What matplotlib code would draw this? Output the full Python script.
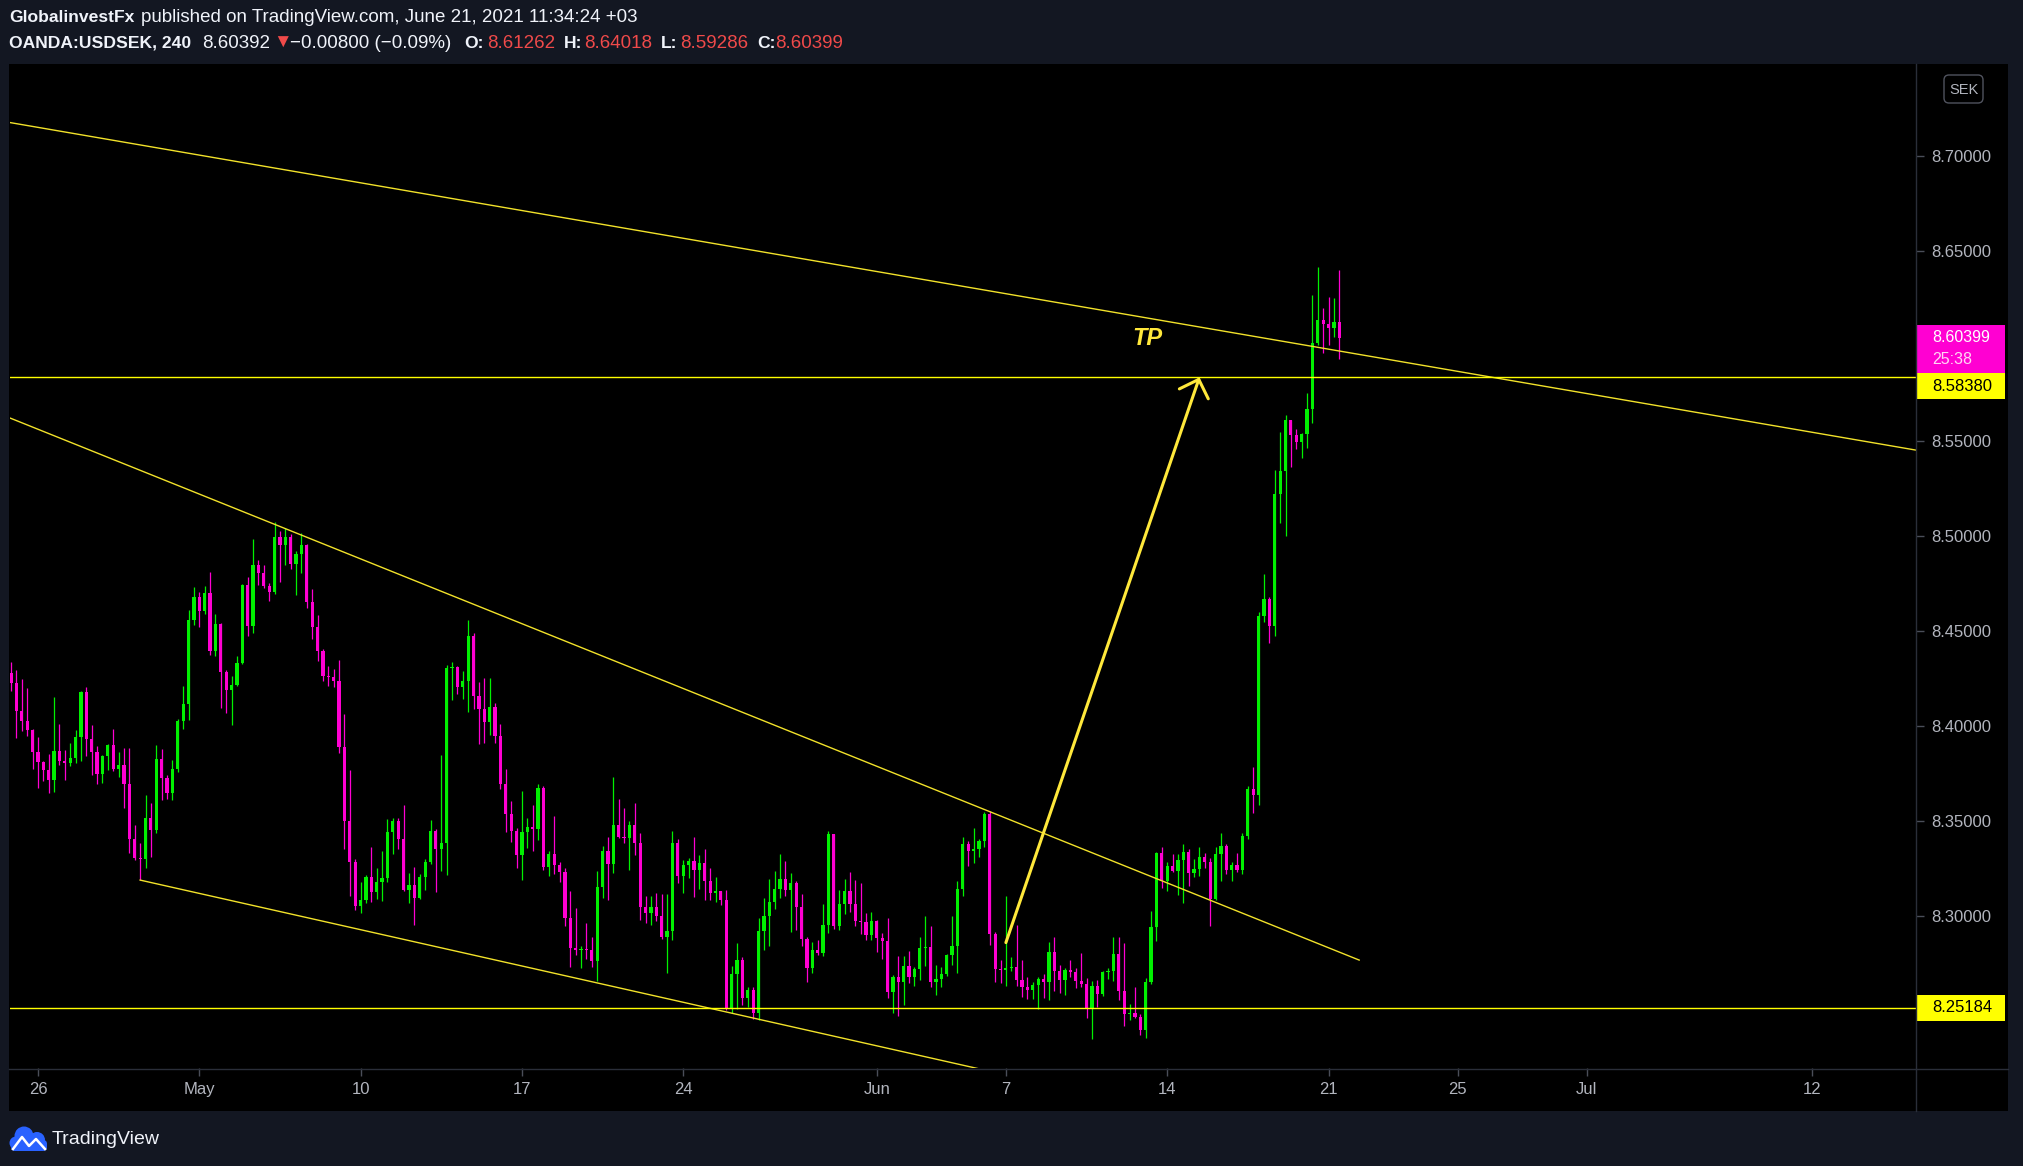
import numpy as np
import matplotlib
matplotlib.use('Agg')
import matplotlib.pyplot as plt
from matplotlib.patches import Rectangle, FancyBboxPatch, Circle

W, H = 2023, 1166
plt.rcParams['font.family'] = ['Liberation Sans', 'DejaVu Sans']

# USDSEK 4h candles, bar 0 = Mon Apr 26 00:00 (+03), 6 bars per trading day
first_bar = -5
first_open = 8.4277
closes = [
    8.4224, 8.4080, 8.4026, 8.3979, 8.3865, 8.3812, 8.3770, 8.3717, 8.3868, 8.3817,
    8.3807, 8.3831, 8.3942, 8.4179, 8.3931, 8.3863, 8.3749, 8.3842, 8.3900, 8.3775,
    8.3795, 8.3696, 8.3407, 8.3307, 8.3300, 8.3516, 8.3454, 8.3826, 8.3728, 8.3649,
    8.3773, 8.4026, 8.4116, 8.4558, 8.4679, 8.4607, 8.4700, 8.4396, 8.4537, 8.4286,
    8.4191, 8.4216, 8.4331, 8.4742, 8.4528, 8.4847, 8.4807, 8.4738, 8.4707, 8.4995,
    8.4954, 8.4995, 8.4854, 8.4905, 8.4952, 8.4654, 8.4523, 8.4396, 8.4265, 8.4259,
    8.4238, 8.3891, 8.3502, 8.3286, 8.3054, 8.3084, 8.3205, 8.3128, 8.3179, 8.3200,
    8.3442, 8.3500, 8.3407, 8.3137, 8.3163, 8.3096, 8.3205, 8.3284, 8.3447, 8.3354,
    8.3384, 8.4305, 8.4309, 8.4207, 8.4237, 8.4474, 8.4160, 8.4091, 8.4023, 8.4102,
    8.3949, 8.3697, 8.3539, 8.3449, 8.3321, 8.3444, 8.3470, 8.3460, 8.3675, 8.3260,
    8.3328, 8.3270, 8.3233, 8.2991, 8.2833, 8.2823, 8.2828, 8.2823, 8.2765, 8.3154,
    8.3342, 8.3275, 8.3479, 8.3417, 8.3412, 8.3479, 8.3386, 8.3049, 8.3017, 8.3049,
    8.3002, 8.2891, 8.2923, 8.3384, 8.3212, 8.3268, 8.3289, 8.3244, 8.3279, 8.3186,
    8.3123, 8.3133, 8.3086, 8.2512, 8.2696, 8.2770, 8.2570, 8.2612, 8.2491, 8.2921,
    8.3000, 8.3074, 8.3144, 8.3195, 8.3139, 8.3175, 8.3049, 8.2881, 8.2728, 8.2823,
    8.2807, 8.2954, 8.3433, 8.2949, 8.3065, 8.3133, 8.3065, 8.2975, 8.2970, 8.2902,
    8.2975, 8.2886, 8.2870, 8.2602, 8.2681, 8.2654, 8.2739, 8.2681, 8.2723, 8.2833,
    8.2839, 8.2654, 8.2670, 8.2696, 8.2797, 8.2844, 8.3144, 8.3379, 8.3342, 8.3353,
    8.3395, 8.3537, 8.2907, 8.2723, 8.2718, 8.2728, 8.2733, 8.2665, 8.2628, 8.2612,
    8.2639, 8.2670, 8.2654, 8.2812, 8.2712, 8.2665, 8.2718, 8.2707, 8.2660, 8.2644,
    8.2512, 8.2633, 8.2591, 8.2707, 8.2712, 8.2802, 8.2607, 8.2486, 8.2491, 8.2470,
    8.2402, 8.2654, 8.2944, 8.3333, 8.3186, 8.3265, 8.3239, 8.3297, 8.3339, 8.3228,
    8.3249, 8.3312, 8.3286, 8.3091, 8.3328, 8.3370, 8.3244, 8.3270, 8.3244, 8.3423,
    8.3670, 8.3637, 8.4581, 8.4668, 8.4528, 8.5221, 8.5342, 8.5611, 8.5533, 8.5496,
    8.5539, 8.5668, 8.6016, 8.6137, 8.6118, 8.6097, 8.6126, 8.6040,
]
highs = [
    8.4335, 8.4295, 8.4247, 8.4200, 8.3984, 8.3942, 8.3816, 8.3852, 8.4152, 8.4010,
    8.3874, 8.3910, 8.3979, 8.4182, 8.4205, 8.4005, 8.3895, 8.3847, 8.3905, 8.3984,
    8.3863, 8.3884, 8.3884, 8.3479, 8.3384, 8.3637, 8.3595, 8.3900, 8.3879, 8.3744,
    8.3821, 8.4037, 8.4210, 8.4610, 8.4731, 8.4705, 8.4737, 8.4810, 8.4589, 8.4542,
    8.4296, 8.4263, 8.4368, 8.4747, 8.4784, 8.4984, 8.4873, 8.4847, 8.4752, 8.5073,
    8.5026, 8.5042, 8.5010, 8.4921, 8.5016, 8.4958, 8.4721, 8.4584, 8.4405, 8.4317,
    8.4302, 8.4347, 8.4063, 8.3768, 8.3300, 8.3179, 8.3216, 8.3363, 8.3253, 8.3342,
    8.3511, 8.3516, 8.3516, 8.3584, 8.3226, 8.3258, 8.3221, 8.3300, 8.3505, 8.3458,
    8.3847, 8.4321, 8.4337, 8.4316, 8.4289, 8.4558, 8.4489, 8.4232, 8.4253, 8.4253,
    8.4121, 8.4010, 8.3774, 8.3605, 8.3465, 8.3658, 8.3516, 8.3584, 8.3697, 8.3686,
    8.3344, 8.3528, 8.3284, 8.3253, 8.3133, 8.3044, 8.2844, 8.2965, 8.2891, 8.3237,
    8.3368, 8.3417, 8.3732, 8.3616, 8.3568, 8.3500, 8.3595, 8.3437, 8.3107, 8.3107,
    8.3123, 8.3118, 8.3118, 8.3447, 8.3405, 8.3295, 8.3305, 8.3416, 8.3321, 8.3353,
    8.3253, 8.3205, 8.3133, 8.3139, 8.2739, 8.2860, 8.2786, 8.2628, 8.2628, 8.2991,
    8.3095, 8.3195, 8.3237, 8.3326, 8.3289, 8.3226, 8.3186, 8.3118, 8.2891, 8.2865,
    8.2875, 8.3065, 8.3449, 8.3433, 8.3139, 8.3197, 8.3233, 8.3191, 8.3175, 8.3018,
    8.3023, 8.2981, 8.2912, 8.2991, 8.2691, 8.2791, 8.2791, 8.2818, 8.2733, 8.2891,
    8.3002, 8.2949, 8.2744, 8.2733, 8.2800, 8.3002, 8.3186, 8.3416, 8.3395, 8.3463,
    8.3405, 8.3547, 8.3553, 8.2918, 8.2770, 8.3107, 8.2786, 8.2954, 8.2770, 8.2681,
    8.2654, 8.2681, 8.2696, 8.2865, 8.2891, 8.2744, 8.2728, 8.2770, 8.2728, 8.2807,
    8.2675, 8.2660, 8.2665, 8.2712, 8.2728, 8.2891, 8.2891, 8.2860, 8.2539, 8.2628,
    8.2486, 8.2675, 8.3028, 8.3339, 8.3365, 8.3286, 8.3328, 8.3328, 8.3381, 8.3355,
    8.3302, 8.3365, 8.3333, 8.3307, 8.3365, 8.3439, 8.3381, 8.3286, 8.3333, 8.3439,
    8.3686, 8.3784, 8.4602, 8.4800, 8.4679, 8.5347, 8.5547, 8.5637, 8.5611, 8.5563,
    8.5544, 8.5753, 8.6268, 8.6416, 8.6200, 8.6258, 8.6253, 8.6402,
]
lows = [
    8.4186, 8.3938, 8.3973, 8.3947, 8.3775, 8.3675, 8.3710, 8.3649, 8.3654, 8.3795,
    8.3717, 8.3789, 8.3807, 8.3817, 8.3842, 8.3742, 8.3696, 8.3702, 8.3770, 8.3765,
    8.3733, 8.3570, 8.3333, 8.3296, 8.3189, 8.3253, 8.3312, 8.3438, 8.3612, 8.3617,
    8.3612, 8.3760, 8.3986, 8.4033, 8.4533, 8.4523, 8.4591, 8.4375, 8.4370, 8.4096,
    8.4070, 8.4007, 8.4212, 8.4328, 8.4475, 8.4491, 8.4744, 8.4728, 8.4659, 8.4696,
    8.4760, 8.4849, 8.4828, 8.4691, 8.4807, 8.4623, 8.4459, 8.4344, 8.4238, 8.4212,
    8.4207, 8.3859, 8.3354, 8.3105, 8.3031, 8.3017, 8.3067, 8.3075, 8.3091, 8.3081,
    8.3181, 8.3328, 8.3354, 8.3132, 8.3070, 8.2954, 8.3091, 8.3139, 8.3274, 8.3128,
    8.3237, 8.3218, 8.4139, 8.4170, 8.4144, 8.4075, 8.4091, 8.3907, 8.3912, 8.3954,
    8.3912, 8.3667, 8.3444, 8.3391, 8.3254, 8.3191, 8.3360, 8.3344, 8.3402, 8.3244,
    8.3212, 8.3223, 8.3181, 8.2949, 8.2733, 8.2797, 8.2728, 8.2776, 8.2733, 8.2660,
    8.3096, 8.3086, 8.3228, 8.3412, 8.3386, 8.3244, 8.3323, 8.2981, 8.2965, 8.2954,
    8.2975, 8.2881, 8.2702, 8.2876, 8.3175, 8.3123, 8.3202, 8.3102, 8.3144, 8.3086,
    8.3086, 8.3075, 8.3060, 8.2507, 8.2491, 8.2512, 8.2533, 8.2523, 8.2460, 8.2454,
    8.2823, 8.2844, 8.3039, 8.3097, 8.3107, 8.2918, 8.2928, 8.2844, 8.2654, 8.2702,
    8.2797, 8.2791, 8.2912, 8.2933, 8.2928, 8.3012, 8.3023, 8.2949, 8.2907, 8.2875,
    8.2875, 8.2812, 8.2775, 8.2570, 8.2491, 8.2475, 8.2533, 8.2649, 8.2633, 8.2665,
    8.2739, 8.2628, 8.2586, 8.2628, 8.2686, 8.2744, 8.2702, 8.3107, 8.3265, 8.3281,
    8.3312, 8.3363, 8.2849, 8.2654, 8.2649, 8.2633, 8.2712, 8.2633, 8.2575, 8.2565,
    8.2565, 8.2512, 8.2570, 8.2560, 8.2607, 8.2597, 8.2586, 8.2681, 8.2623, 8.2628,
    8.2465, 8.2354, 8.2523, 8.2581, 8.2670, 8.2660, 8.2560, 8.2423, 8.2454, 8.2465,
    8.2375, 8.2360, 8.2644, 8.2870, 8.3149, 8.3133, 8.3233, 8.3112, 8.3070, 8.3160,
    8.3207, 8.3212, 8.3254, 8.2949, 8.3086, 8.3186, 8.3223, 8.3186, 8.3233, 8.3223,
    8.3407, 8.3542, 8.3584, 8.4549, 8.4439, 8.4475, 8.5070, 8.5002, 8.5365, 8.5460,
    8.5412, 8.5465, 8.5597, 8.6005, 8.5965, 8.6005, 8.6047, 8.5929,
]

# time axis: bar index of each date label
date_ticks = [0, 30, 60, 90, 120, 156, 180, 210, 240, 264, 288, 330]
date_labels = ['26', 'May', '10', '17', '24', 'Jun', '7', '14', '21', '25', 'Jul', '12']
# 8.60000 is covered by the last-price label in the reference, so it is left out
price_ticks = [8.30, 8.35, 8.40, 8.45, 8.50, 8.55, 8.65, 8.70]

tp_level = 8.58380
support_level = 8.25184
last_price = 8.60399
countdown = '25:38'

# drawn trendlines (bar index, price)
upper_x, upper_y = [-5.2, 349.25], [8.7176, 8.5452]
mid_x, mid_y = [-5.2, 245.7], [8.5621, 8.2768]
low_x, low_y = [19, 185], [8.3189, 8.2132]
arrow_from = (180, 8.2860)
arrow_to = (216, 8.5835)
tp_label_pos = (206.3, 8.6042)

GREEN = '#00f000'
MAGENTA = '#ff00d2'
YELLOW = '#ffff00'
TREND = '#f2e22a'
ARROW = '#ffe83b'
TXT = '#b2b5be'
GRID = '#2a2e39'

fig = plt.figure(figsize=(W / 100, H / 100), dpi=100)
fig.patch.set_facecolor('#131722')

bg = fig.add_axes([0, 0, 1, 1], zorder=-1)
bg.set_xlim(0, W); bg.set_ylim(H, 0); bg.axis('off')
bg.add_patch(Rectangle((9, 64), 1999, 1047, color='black', lw=0))

ax = fig.add_axes([10 / W, 1 - 1068 / H, 1906 / W, 1004 / H], zorder=1)
ax.set_facecolor('black')
ax.set_xlim(-5.2, 349.25)
ax.set_ylim(8.22, 8.74842)
for s in ax.spines.values():
    s.set_visible(False)

closes = np.array(closes); highs = np.array(highs); lows = np.array(lows)
bars = np.arange(first_bar, first_bar + len(closes))
opens = np.concatenate([[first_open], closes[:-1]])
cols = np.where(closes >= opens, GREEN, MAGENTA)
ax.vlines(bars, lows, highs, colors=cols, lw=0.9, zorder=3)
body_lo = np.minimum(opens, closes)
body_h = np.maximum(np.abs(closes - opens), 0.0005)
ax.bar(bars, body_h, bottom=body_lo, width=0.6, color=cols, linewidth=0, zorder=3)

ax.plot(upper_x, upper_y, color=TREND, lw=1.0, zorder=4)
ax.plot(mid_x, mid_y, color=TREND, lw=1.0, zorder=4)
ax.plot(low_x, low_y, color=TREND, lw=1.0, zorder=4)
ax.axhline(tp_level, color=YELLOW, lw=1.0, zorder=4)
ax.axhline(support_level, color=YELLOW, lw=1.0, zorder=4)
ax.annotate('', xy=arrow_to, xytext=arrow_from,
            arrowprops=dict(arrowstyle='->,head_length=0.55,head_width=0.55',
                            color=ARROW, lw=2.2, mutation_scale=20,
                            shrinkA=0, shrinkB=0), zorder=5)
ax.text(*tp_label_pos, 'TP', color=ARROW, fontsize=17, fontweight='bold',
        fontstyle='italic', ha='center', va='center', zorder=5)

ax.yaxis.tick_right()
ax.set_yticks(price_ticks, [f'{v:.5f}' for v in price_ticks])
ax.set_xticks(date_ticks, date_labels)
ax.tick_params(axis='y', length=6, width=1, color='#4a4e59', pad=5,
               labelsize=12, labelcolor=TXT)
ax.tick_params(axis='x', length=6, width=1, color='#4a4e59', pad=4,
               labelsize=12, labelcolor=TXT)

# overlay in pixel coordinates
ov = fig.add_axes([0, 0, 1, 1], zorder=3)
ov.set_xlim(0, W); ov.set_ylim(H, 0); ov.axis('off')
ov.patch.set_alpha(0)


def py(p):
    return H - ax.transData.transform((0, p))[1]


ov.plot([1916.5, 1916.5], [64, 1111], color=GRID, lw=1)
ov.plot([9, 2008], [1068.5, 1068.5], color=GRID, lw=1)

# price scale labels
y_last = py(last_price)
ov.add_patch(Rectangle((1916, y_last - 13), 89, 48, color=MAGENTA, lw=0))
ov.text(1932, y_last - 1, f'{last_price:.5f}', color='white', fontsize=11.5,
        va='center', ha='left')
ov.text(1932, y_last + 21, countdown, color='#ffd6f4', fontsize=11.5,
        va='center', ha='left')
y_tp = y_last + 35
ov.add_patch(Rectangle((1916, y_tp), 89, 26, color=YELLOW, lw=0))
ov.text(1932, y_tp + 13, f'{tp_level:.5f}', color='black', fontsize=12,
        va='center', ha='left')
y_sup = py(support_level)
ov.add_patch(Rectangle((1916, y_sup - 13), 89, 26, color=YELLOW, lw=0))
ov.text(1932, y_sup, f'{support_level:.5f}', color='black', fontsize=12,
        va='center', ha='left')

ov.add_patch(FancyBboxPatch((1944, 75), 39, 28, boxstyle='round,pad=0,rounding_size=5',
                            fc='none', ec='#50535e', lw=1))
ov.text(1963.5, 89.5, 'SEK', color=TXT, fontsize=10.5, ha='center', va='center')

# header
WHITE = '#f0f3fa'
RED = '#f04a4a'
hs = 13.5
hb = 12.6
ov.text(9, 17, 'GlobalinvestFx', color=WHITE, fontsize=hb, fontweight='bold', va='center')
ov.text(141, 17, 'published on TradingView.com, June 21, 2021 11:34:24 +03',
        color=WHITE, fontsize=hs, va='center')
row2 = [
    (9, 'OANDA:USDSEK, 240', WHITE, 'bold'),
    (202, '8.60392', WHITE, 'normal'),
    (273, '\u25bc', RED, 'normal'),
    (290, '\u22120.00800 (\u22120.09%)', WHITE, 'normal'),
    (464, 'O:', WHITE, 'bold'),
    (487, '8.61262', RED, 'normal'),
    (564, 'H:', WHITE, 'bold'),
    (584, '8.64018', RED, 'normal'),
    (661, 'L:', WHITE, 'bold'),
    (680, '8.59286', RED, 'normal'),
    (757, 'C:', WHITE, 'bold'),
    (775, '8.60399', RED, 'normal'),
]
for x, s, c, w in row2:
    ov.text(x, 43, s, color=c, fontsize=hb if w == 'bold' else hs,
            fontweight=w, va='center')

# footer logo
BLUE = '#2962ff'
ov.add_patch(Circle((24, 1136), 9.5, color=BLUE, lw=0))
ov.add_patch(Circle((37, 1140), 8, color=BLUE, lw=0))
ov.add_patch(Circle((16, 1143), 6.5, color=BLUE, lw=0))
ov.add_patch(FancyBboxPatch((11, 1140), 36, 11, boxstyle='round,pad=0,rounding_size=4',
                            color=BLUE, lw=0))
ov.plot([13, 22, 29, 36, 45], [1149, 1137, 1146, 1139, 1149], color='white', lw=1.8)
ov.text(52, 1139, 'TradingView', color=WHITE, fontsize=14, va='center')

fig.savefig('out.png', dpi=100, facecolor=fig.get_facecolor())
